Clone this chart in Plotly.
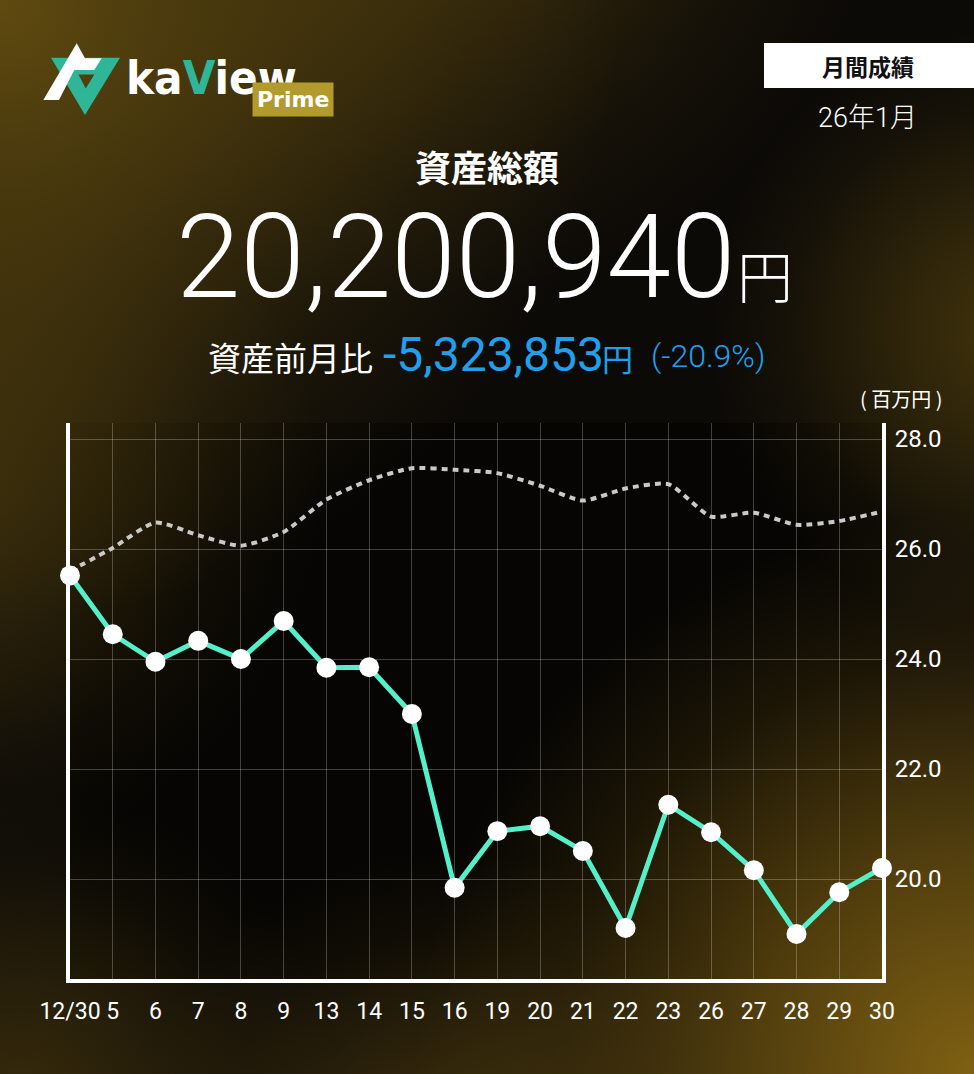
import numpy as np
import plotly.graph_objects as go

W, H = 974, 1074

# ---------------- data ----------------
dates = ["12/30", "5", "6", "7", "8", "9", "13", "14", "15", "16",
         "19", "20", "21", "22", "23", "26", "27", "28", "29", "30"]
assets = [25.52, 24.45, 23.95, 24.33, 24.00, 24.69, 23.84, 23.85, 23.00, 19.84,
          20.87, 20.96, 20.51, 19.11, 21.35, 20.85, 20.16, 19.00, 19.76, 20.20]
benchmark = [25.60, 26.02, 26.48, 26.25, 26.06, 26.31, 26.90, 27.25, 27.47, 27.44,
             27.38, 27.15, 26.88, 27.10, 27.18, 26.59, 26.66, 26.44, 26.51, 26.68]
y_ticks = [20, 22, 24, 26, 28]
y_tick_labels = ["20.0", "22.0", "24.0", "26.0", "28.0"]

title_total = "資産総額"
total_assets = "20,200,940"
change_label = "資産前月比"
change_value = "-5,323,853"
change_pct = "(-20.9%)"
badge_text = "月間成績"
month_label = "26年1月"
unit_label = "( 百万円 )"

# ---------------- helpers ----------------
def px(x):
    return x / W

def py(y):
    return 1 - y / H

JP = "Noto Sans CJK JP, Noto Sans, sans-serif"
NUM = "Roboto, Noto Sans CJK JP, sans-serif"
TEAL = "#55f0c9"
BLUE = "#1fa0ee"
LOGO_TEAL = "#2fb597"

fig = go.Figure()

# ---------------- background glow (decoration, pixel space) ----------------
def blob(cx, cy, r, rgb, a):
    t = np.linspace(0, 2 * np.pi, 90)
    xs = cx + r * np.cos(t)
    ys = cy + r * np.sin(t)
    c = lambda al: f"rgba({rgb[0]},{rgb[1]},{rgb[2]},{al:.3f})"
    fig.add_trace(go.Scatter(
        x=xs, y=ys, mode="lines", line=dict(width=0), fill="toself",
        fillgradient=dict(type="radial",
                          colorscale=[[0, c(a)], [0.4, c(a * 0.6)], [0.75, c(a * 0.18)], [1, c(0)]]),
        hoverinfo="skip", showlegend=False, xaxis="x", yaxis="y"))

blob(0, 0, 620, (100, 78, 16), 0.95)
blob(-60, 480, 380, (90, 70, 14), 0.6)
blob(420, -160, 460, (85, 66, 14), 0.7)
blob(1010, 330, 300, (100, 78, 14), 0.6)
blob(974, 1074, 560, (140, 106, 20), 0.9)
blob(450, 1180, 330, (100, 76, 16), 0.6)
blob(20, 1110, 320, (85, 66, 14), 0.6)

# ---------------- chart ----------------
fig.add_trace(go.Scatter(
    x=dates, y=benchmark, mode="lines",
    line=dict(color="#c9c9c9", width=4, dash="6px,5px", shape="spline", smoothing=0.6),
    hoverinfo="skip", showlegend=False, xaxis="x2", yaxis="y2"))
fig.add_trace(go.Scatter(
    x=dates, y=assets, mode="lines+markers",
    line=dict(color=TEAL, width=5),
    marker=dict(color="white", size=20, line=dict(width=0)),
    cliponaxis=False, hoverinfo="skip", showlegend=False, xaxis="x2", yaxis="y2"))

plot_left, plot_right, plot_top, plot_bottom = 70, 882, 423, 979
# value scale: 28 at px 439, 55 px per unit
y_lo = 28 - (plot_bottom - 439) / 55
y_hi = 28 + (439 - plot_top) / 55

grid = "rgba(255,255,255,0.24)"

fig.update_layout(
    width=W, height=H,
    margin=dict(l=0, r=0, t=0, b=0, pad=0, autoexpand=False),
    paper_bgcolor="#0c0a07",
    plot_bgcolor="rgba(0,0,0,0)",
    showlegend=False,
    xaxis=dict(domain=[0, 1], range=[0, W], visible=False, fixedrange=True, automargin=False),
    yaxis=dict(domain=[0, 1], range=[H, 0], visible=False, fixedrange=True, automargin=False),
    xaxis2=dict(domain=[px(plot_left), px(plot_right)], anchor="y2", type="category",
                range=[0, len(dates) - 1], tickmode="linear", tick0=0, dtick=1,
                showgrid=True, gridcolor=grid, gridwidth=1, automargin=False,
                showline=True, linecolor="white", linewidth=4, mirror=False,
                ticks="", ticklabelstandoff=8, zeroline=False, fixedrange=True,
                tickfont=dict(family=NUM, size=23, color="white")),
    yaxis2=dict(domain=[py(plot_bottom), py(plot_top)], anchor="x2", side="right",
                range=[y_lo, y_hi], tickmode="array", tickvals=y_ticks, ticktext=y_tick_labels,
                showgrid=True, gridcolor=grid, gridwidth=1, automargin=False,
                showline=True, linecolor="white", linewidth=4, mirror=True,
                ticks="", ticklabelstandoff=4, zeroline=False, fixedrange=True,
                tickfont=dict(family=NUM, size=24, color="white")),
)

# darker plot area
fig.add_shape(type="rect", xref="x2 domain", yref="y2 domain", x0=0, x1=1, y0=0, y1=1,
              fillcolor="rgba(0,0,0,0.5)", line=dict(width=0), layer="below")

# ---------------- header shapes ----------------
def path(points):
    return "M " + " L ".join(f"{px(x):.5f},{py(y):.5f}" for x, y in points) + " Z"

# month badge box
fig.add_shape(type="rect", xref="paper", yref="paper", x0=px(764), x1=1, y0=py(88), y1=py(43),
              fillcolor="white", line=dict(width=0), layer="above")

# logo icon
fig.add_shape(type="path", xref="paper", yref="paper",
              path=path([(51, 57.7), (120, 57.7), (85, 115)]) + " " +
                   path([(78.5, 74.5), (85.7, 88.5), (94.3, 74.5)]),
              fillcolor=LOGO_TEAL, line=dict(width=0), layer="above")
fig.add_shape(type="path", xref="paper", yref="paper",
              path=path([(43.3, 100), (59, 100), (74.3, 70), (94.3, 70), (101.7, 58.3),
                         (85, 58.3), (76.7, 43.3)]),
              fillcolor="white", line=dict(width=0), layer="above")

annotations = []

def ann(text, x, y, size, color="white", family=JP, xanchor="center", yanchor="middle",
        weight=None, **kw):
    f = dict(family=family, size=size, color=color)
    if weight is not None:
        f["weight"] = weight
    annotations.append(dict(text=text, x=px(x), y=py(y), xref="paper", yref="paper",
                            xanchor=xanchor, yanchor=yanchor, showarrow=False, font=f, **kw))

# logo text
ann("ka<span style='color:#2fb597'>V</span>iew", 124, 78, 47,
    family="DejaVu Sans Condensed, Liberation Sans Narrow, Roboto", xanchor="left", weight="bold")
ann("Prime", 293, 99, 22, family="DejaVu Sans, Roboto", weight="bold",
    bgcolor="#b39a2c", borderpad=4)

ann(badge_text, 868, 66, 23, color="#111111", weight="bold")
ann(month_label, 867, 118, 27, family=NUM, weight=300)
ann(title_total, 487, 166, 36, weight="bold")
ann(total_assets, 737, 257, 116, family=NUM, xanchor="right", weight=300)
ann("円", 735, 273, 56, family=JP, xanchor="left", weight=300)
ann(change_label, 290, 357, 33)
ann(change_value, 606, 354, 48, color=BLUE, family=NUM, xanchor="right")
ann("円", 600, 358, 31, color=BLUE, xanchor="left")
ann(change_pct, 708, 356, 32, color=BLUE, family=NUM, weight=300)
ann(unit_label, 901, 398, 20)

fig.update_layout(annotations=annotations)

fig.write_html("out.html", config={"displayModeBar": False, "staticPlot": True},
               post_script="document.body.style.margin='0';document.body.style.overflow='hidden';")
